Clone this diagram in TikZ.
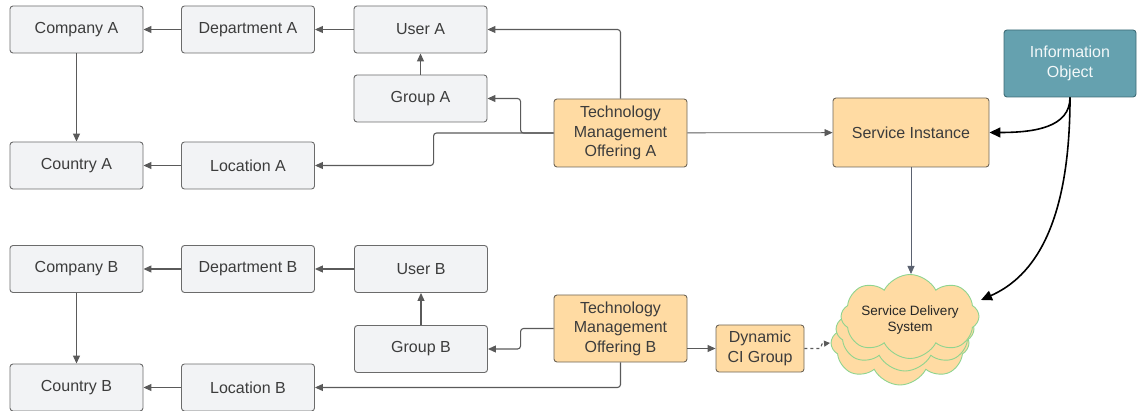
\documentclass[tikz,border=0pt]{standalone}
\usepackage{fontspec}
\setmainfont{Liberation Sans}
\usetikzlibrary{shapes.symbols, arrows.meta, positioning}
\definecolor{boxgray}{HTML}{F2F3F5}
\definecolor{boxline}{HTML}{6B6B6B}
\definecolor{textgray}{HTML}{3C3C3C}
\definecolor{lucidorange}{HTML}{FFDBA3}
\definecolor{orangeline}{HTML}{6E6557}
\definecolor{ioteal}{HTML}{65A1AF}
\definecolor{iotealline}{HTML}{3D6B76}
\definecolor{cloudgreen}{HTML}{8FD48F}
\definecolor{linegray}{HTML}{5A5A5A}
\definecolor{slateline}{HTML}{5B6270}

\begin{document}
\begin{tikzpicture}[x=1pt, y=-1pt, font=\fontsize{16}{19.5}\selectfont]
% Define styles
\tikzstyle{entity} = [rectangle, rounded corners=3pt, minimum width=133pt, minimum height=47pt, text centered, draw=boxline, fill=boxgray, text=textgray, line width=0.9pt]
\tikzstyle{offering} = [rectangle, rounded corners=3pt, minimum width=133pt, minimum height=68pt, align=center, draw=orangeline, fill=lucidorange, text=textgray, line width=0.9pt]
\tikzstyle{infobox} = [rectangle, rounded corners=3pt, minimum width=132pt, minimum height=67pt, align=center, draw=iotealline, fill=ioteal, text=white!92!ioteal, line width=0.9pt]
\tikzstyle{puff} = [cloud, cloud puffs=8, cloud puff arc=125, aspect=1.65, minimum width=138pt, minimum height=84pt, inner sep=0pt, draw=cloudgreen, fill=lucidorange, line width=0.9pt]
\tikzstyle{arrow} = [line width=1.1pt, draw=linegray, rounded corners=3pt, -{Triangle[length=8pt, width=7pt]}]
\tikzstyle{heavy} = [line width=1.6pt, black, -{Triangle[length=11pt, width=10pt]}]

\useasboundingbox (0,0) rectangle (1137,411);

% Nodes A
\node (companyA) [entity] at (76.5,29.5) {Company A};
\node (deptA) [entity] at (248,29.5) {Department A};
\node (userA) [entity] at (420.5,29.5) {User A};
\node (groupA) [entity] at (420.5,98.5) {Group A};
\node (countryA) [entity] at (76.5,165.5) {Country A};
\node (locA) [entity] at (248,165.5) {Location A};
\node (tmoA) [offering] at (620.5,133) {Technology\\Management\\Offering A};
\node (si) [offering, minimum width=156pt, minimum height=69pt] at (911,132.5) {Service Instance};
\node (info) [infobox] at (1070,63.5) {Information\\Object};

% Nodes B
\node (companyB) [entity] at (76.5,269) {Company B};
\node (deptB) [entity] at (248,269) {Department B};
\node (userB) [entity] at (421,269) {User B};
\node (groupB) [entity] at (421,349) {Group B};
\node (countryB) [entity] at (76.5,387.5) {Country B};
\node (locB) [entity] at (248,387.5) {Location B};
\node (tmoB) [offering, minimum height=67pt] at (620.5,328.5) {Technology\\Management\\Offering B};
\node (dynci) [offering, minimum width=88pt, minimum height=47pt] at (760,348.5) {Dynamic\\CI Group};

% Cloud
\node (sdsC) [puff] at (900,343) {};
\node (sdsB) [puff] at (905,329) {};
\node (sds) [puff] at (910,316.5) {};
\node (sdslabel) [align=center, font=\fontsize{13.5}{16}\selectfont, text=black!85] at (910,320) {Service Delivery\\System};

% Arrows A
\draw[arrow] (userA) -- (deptA);
\draw[arrow] (deptA) -- (companyA);
\draw[arrow] (companyA) -- (countryA);
\draw[arrow] (locA) -- (countryA);
\draw[arrow] (groupA) -- (userA);
\draw[arrow] (tmoA.north) |- (userA.east);
\draw[arrow] (tmoA.west) -- ++(-33,0) |- (groupA.east);
\draw[arrow] (tmoA.west) -- ++(-120,0) |- (locA.east);
\draw[arrow, line width=0.8pt] (tmoA) -- (si);

% Arrows B
\draw[arrow] (userB) -- (deptB);
\draw[arrow] (deptB) -- (companyB);
\draw[arrow] (companyB) -- (countryB);
\draw[arrow] (locB) -- (countryB);
\draw[arrow] (groupB) -- (userB);
\draw[arrow] (tmoB.west) -- ++(-33,0) |- (groupB.east);
\draw[arrow] (tmoB.south) |- (locB.east);
\draw[arrow] (tmoB.east |- dynci) -- (dynci);

% Service delivery
\draw[arrow, draw=slateline, line width=0.8pt] (si.south) -- (si.south |- 0,274);
\draw[arrow, dashed, -{Triangle[length=6pt, width=6pt]}] (dynci.east) -- ++(12,0) .. controls ++(5,0) and ++(-4,0) .. ++(9,-5) -- (830,343);
\draw[heavy] (info.south) .. controls ++(0,30) and ++(45,0) .. (si.east);
\draw[heavy] (info.south) .. controls ++(0,140) and ++(45,-20) .. (981,300);
\end{tikzpicture}
\end{document}
